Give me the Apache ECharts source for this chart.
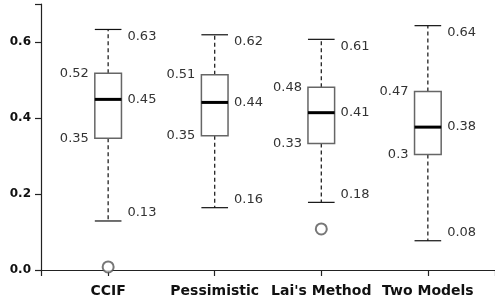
<!DOCTYPE html>
<html>
<head>
<meta charset="utf-8">
<script src="https://cdn.jsdelivr.net/npm/echarts@6/dist/echarts.min.js"></script>
<style>
  html, body { margin: 0; padding: 0; background: #fff; }
  #chart { width: 495px; height: 305px; }
</style>
</head>
<body>
<div id="chart"></div>
<script>
const categories = ["CCIF", "Pessimistic", "Lai's Method", "Two Models"];
const mins = [0.129, 0.164, 0.178, 0.077];
const q1s = [0.347, 0.353, 0.333, 0.304];
const medians = [0.449, 0.441, 0.414, 0.376];
const q3s = [0.518, 0.514, 0.481, 0.470];
const maxs = [0.633, 0.619, 0.607, 0.643];
// [category position, value]
const outliers = [[1, 0.008], [3, 0.108]];

const yTicks = [0, 0.2, 0.4, 0.6];

const fmt = (v) => String(+v.toFixed(2));

const boxData = categories.map((c, i) => [i + 1, mins[i], q1s[i], medians[i], q3s[i], maxs[i]]);

const font = "DejaVu Sans";
const textColor = "#333";

const renderBox = (params, api) => {
  const x = api.value(0);
  const hw = api.size([0.125, 0])[0];
  const pMin = api.coord([x, api.value(1)]);
  const pQ1 = api.coord([x, api.value(2)]);
  const pMed = api.coord([x, api.value(3)]);
  const pQ3 = api.coord([x, api.value(4)]);
  const pMax = api.coord([x, api.value(5)]);
  const cx = pMed[0];
  const dashed = { stroke: "#111", lineWidth: 1.2, lineDash: [4, 3] };
  const solid = { stroke: "#111", lineWidth: 1.2 };
  const txt = (text, px, py, align) => ({
    type: "text",
    style: {
      text: text,
      x: px,
      y: py,
      align: align,
      verticalAlign: "middle",
      fill: textColor,
      font: "13px " + font,
    },
  });
  return {
    type: "group",
    children: [
      { type: "line", shape: { x1: cx, y1: pQ3[1], x2: cx, y2: pMax[1] }, style: dashed },
      { type: "line", shape: { x1: cx, y1: pQ1[1], x2: cx, y2: pMin[1] }, style: dashed },
      { type: "line", shape: { x1: cx - hw, y1: pMax[1], x2: cx + hw, y2: pMax[1] }, style: solid },
      { type: "line", shape: { x1: cx - hw, y1: pMin[1], x2: cx + hw, y2: pMin[1] }, style: solid },
      {
        type: "rect",
        shape: { x: cx - hw, y: pQ3[1], width: hw * 2, height: pQ1[1] - pQ3[1] },
        style: { fill: "#fff", stroke: "#666", lineWidth: 1.5 },
      },
      { type: "line", shape: { x1: cx - hw, y1: pMed[1], x2: cx + hw, y2: pMed[1] }, style: { stroke: "#000", lineWidth: 3 } },
      txt(fmt(api.value(5)), cx + hw + 6, pMax[1] + 7, "left"),
      txt(fmt(api.value(3)), cx + hw + 6, pMed[1], "left"),
      txt(fmt(api.value(1)), cx + hw + 6, pMin[1] - 8, "left"),
      txt(fmt(api.value(4)), cx - hw - 6, pQ3[1], "right"),
      txt(fmt(api.value(2)), cx - hw - 6, pQ1[1], "right"),
    ],
  };
};

const chart = echarts.init(document.getElementById("chart"), null, { renderer: "canvas" });
const option = {
  animation: false,
  backgroundColor: "#fff",
  grid: { left: 41, right: -2, top: 4, bottom: 35, containLabel: false },
  xAxis: {
    type: "value",
    min: 0.37,
    max: 4.63,
    offset: 6,
    splitLine: { show: false },
    axisLine: { lineStyle: { color: "#222", width: 1.2 } },
    axisTick: { show: true, length: 6, customValues: [0.37, 1, 2, 3, 4, 4.63], lineStyle: { color: "#222", width: 1.2 } },
    axisLabel: {
      customValues: [1, 2, 3, 4],
      formatter: (v) => categories[Math.round(v) - 1] || "",
      fontFamily: font,
      fontWeight: "bold",
      fontSize: 14,
      color: "#111",
      margin: 8,
    },
  },
  yAxis: {
    type: "value",
    min: 0,
    max: 0.7,
    splitLine: { show: false },
    axisLine: { show: true, lineStyle: { color: "#222", width: 1.2 } },
    axisTick: { show: true, length: 6, customValues: yTicks.concat([0.7]), lineStyle: { color: "#222", width: 1.2 } },
    axisLabel: {
      customValues: yTicks,
      formatter: (v) => v.toFixed(1),
      fontFamily: font,
      fontWeight: "bold",
      fontSize: 12,
      color: "#111",
      margin: 10,
    },
  },
  series: [
    {
      type: "custom",
      renderItem: renderBox,
      data: boxData,
      encode: { x: 0, y: [1, 2, 3, 4, 5] },
      clip: false,
    },
    {
      type: "scatter",
      data: outliers,
      symbol: "emptyCircle",
      symbolSize: 11,
      clip: false,
      itemStyle: { color: "#555", borderColor: "#555", borderWidth: 1.2 },
    },
  ],
};
chart.setOption(option);
</script>
</body>
</html>
